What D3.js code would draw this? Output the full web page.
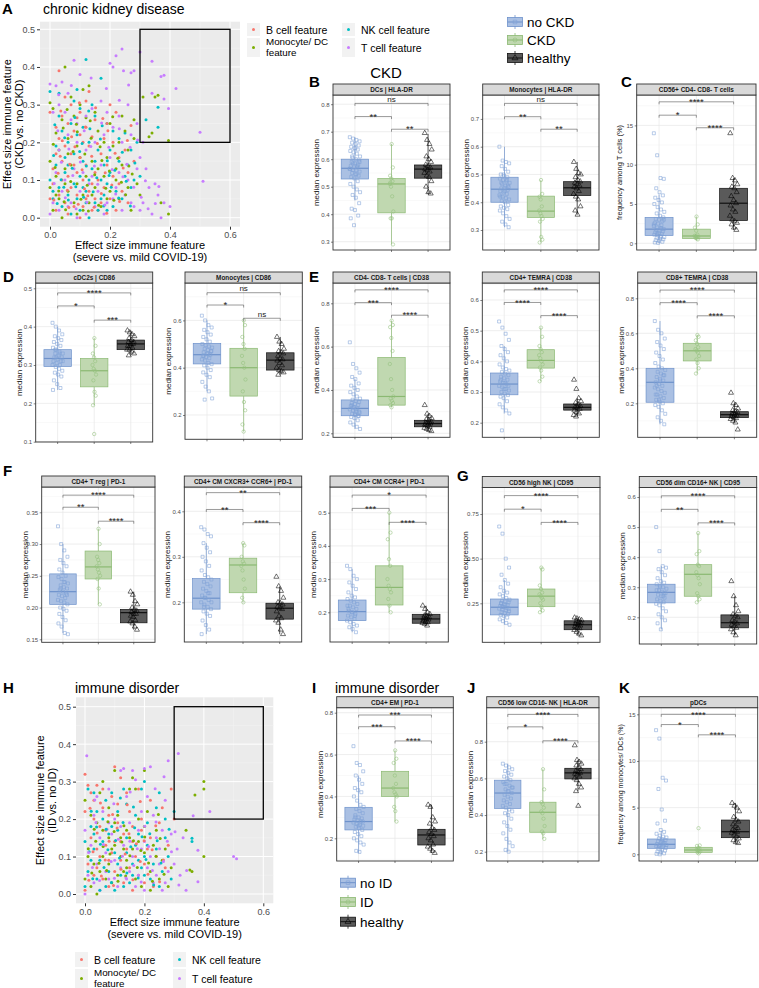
<!DOCTYPE html>
<html>
<head>
<meta charset="utf-8">
<script src="https://cdn.jsdelivr.net/npm/d3@7/dist/d3.min.js"></script>
<style>
  body { margin: 0; background: #fff; }
  svg { font-family: "Liberation Sans", Arial, sans-serif; display: block; }
</style>
</head>
<body>
<div id="fig"></div>
<script>
// ---------- scatter data: effect sizes [severe vs mild, disease vs no disease] ----------
const featLabels = ['B cell feature', 'Monocyte/ DC|feature', 'NK cell feature', 'T cell feature'];
const featColors = ['#F8766D', '#7CAE00', '#00BFC4', '#C77CFF'];
const effXTicks = [0, 0.2, 0.4, 0.6];
const effYTicks = [0, 0.1, 0.2, 0.3, 0.4, 0.5];

const ckdB = [[.03,.39],[.05,.32],[.12,.31],[.0,.28],[.02,.24],[.06,.25],[.08,.23],[.10,.22],[.15,.26],[.20,.30],[.22,.28],[.27,.245],[.25,.18],[.13,.19],[.07,.17],[.04,.15],[.01,.13],[.09,.12],[.11,.10],[.14,.09],[.18,.08],[.21,.11],[.03,.06],[.05,.04],[.08,.03],[.12,.05],[.16,.02],[.02,.02],[.06,.01],[.10,.0],[.04,.27],[.09,.265],[.11,.2],[.14,.215],[.17,.17],[.19,.14],[.23,.16],[.26,.12],[.01,.09],[.07,.08],[.13,.07],[.15,.12],[.18,.21],[.05,.19],[.03,.21],[.08,.14],[.12,.14],[.16,.1],[.2,.05],[.24,.07],[.0,.05],[.09,.06],[.11,.03],[.14,.02],[.17,.04],[.22,.02],[.06,.11],[.02,.17],[.1,.16],[.19,.25],[.07,.3],[.13,.335],[.21,.2],[.28,.15],[.04,.1],[.15,.05],[.23,.09],[.26,.04],[.1,.28],[.12,.24],
  [.013,.047],[.027,.118],[.041,.204],[.058,.073],[.066,.142],[.083,.188],[.094,.036],[.107,.127],[.118,.241],[.126,.058],[.139,.163],[.147,.028],[.158,.197],[.171,.064],[.184,.119],[.193,.231],[.206,.087],[.217,.171],[.232,.043],[.244,.132],[.258,.205],[.036,.283],[.072,.215],[.098,.305],[.152,.292],[.176,.263],[.034,.163],[.115,.077],[.063,.027],[.189,.012]];
const ckdMono = [[.05,.40],[.13,.35],[.0,.305],[.01,.29],[.04,.26],[.07,.32],[.11,.34],[.02,.225],[.06,.21],[.09,.19],[.12,.265],[.16,.23],[.2,.25],[.24,.27],[.28,.26],[.31,.32],[.35,.32],[.36,.325],[.34,.225],[.33,.215],[.395,.205],[.395,.01],[.37,.04],[.29,.09],[.26,.18],[.22,.13],[.18,.11],[.14,.15],[.1,.16],[.05,.13],[.02,.11],[.0,.08],[.03,.05],[.06,.07],[.08,.04],[.11,.02],[.14,.06],[.17,.03],[.2,.07],[.23,.05],[.27,.02],[.01,.02],[.04,.0],[.09,.09],[.12,.11],[.15,.08],[.19,.16],[.21,.19],[.25,.23],[.07,.14],[.03,.18],[.08,.27],[.1,.3],[.15,.28],[.18,.2],[.22,.1],[.26,.08],[.3,.06],[.13,.04],[.16,.13],[.0,.15],[.06,.17],[.11,.06],[.24,.14],[.28,.21],[.05,.09],[.02,.06],[.09,.01],[.19,.05],[.23,.2],
  [.017,.133],[.029,.071],[.044,.238],[.052,.021],[.069,.096],[.077,.176],[.091,.228],[.103,.049],[.116,.169],[.124,.086],[.137,.211],[.149,.114],[.162,.033],[.173,.152],[.186,.078],[.198,.124],[.213,.046],[.226,.158],[.238,.094],[.252,.061],[.263,.137],[.011,.195],[.057,.287],[.088,.248],[.134,.257],[.167,.188],[.209,.268],[.047,.042],[.128,.018],[.274,.116]];
const ckdNK = [[.12,.42],[.17,.37],[.0,.335],[.03,.33],[.08,.31],[.1,.29],[.15,.27],[.19,.25],[.21,.23],[.25,.225],[.29,.2],[.36,.293],[.36,.24],[.32,.26],[.27,.18],[.23,.15],[.2,.12],[.17,.1],[.14,.13],[.11,.15],[.08,.17],[.05,.16],[.02,.14],[.0,.1],[.03,.08],[.06,.06],[.09,.05],[.12,.07],[.15,.04],[.18,.06],[.21,.03],[.24,.05],[.27,.08],[.3,.11],[.01,.05],[.04,.03],[.07,.01],[.1,.02],[.13,.0],[.16,.02],[.19,.09],[.22,.07],[.25,.11],[.06,.2],[.09,.22],[.13,.2],[.16,.18],[.18,.14],[.04,.23],[.07,.25],[.11,.24],[.14,.3],[.02,.19],[.05,.12],[.1,.11],[.13,.1],[.2,.18],[.23,.21],[.26,.14],[.28,.1],[.01,.07],[.08,.09],[.12,.04],[.17,.05],[.03,.27],[.09,.34],[.15,.15],[.19,.02],[.11,.08],[.06,.14],
  [.012,.165],[.024,.038],[.037,.101],[.049,.212],[.061,.047],[.074,.131],[.086,.082],[.099,.176],[.112,.054],[.121,.137],[.133,.236],[.144,.069],[.156,.106],[.168,.209],[.179,.031],[.191,.151],[.204,.081],[.216,.126],[.229,.052],[.241,.174],[.254,.097],[.268,.031],[.283,.145],[.016,.247],[.083,.266],[.129,.283],[.174,.244],[.046,.081],[.107,.197],[.197,.112]];
const ckdT = [[.24,.448],[.30,.44],[.34,.415],[.22,.43],[.2,.41],[.21,.40],[.08,.418],[.1,.38],[.28,.39],[.27,.385],[.245,.39],[.37,.375],[.38,.378],[.42,.343],[.34,.33],[.38,.315],[.395,.29],[.5,.227],[.51,.097],[.31,.2],[.0,.355],[.02,.35],[.04,.36],[.06,.33],[.01,.28],[.03,.3],[.05,.28],[.07,.26],[.09,.25],[.12,.27],[.14,.29],[.17,.31],[.19,.28],[.23,.27],[.26,.3],[.29,.25],[.32,.13],[.35,.09],[.36,.06],[.38,.04],[.34,.01],[.37,.0],[.4,.03],[.33,.08],[.31,.04],[.28,.03],[.25,.06],[.22,.08],[.19,.04],[.16,.07],[.13,.09],[.1,.07],[.07,.04],[.04,.07],[.01,.04],[.0,.01],[.03,.02],[.06,.03],[.09,.0],[.12,.01],[.15,.03],[.18,.01],[.21,.05],[.24,.02],[.27,.04],[.3,.02],[.02,.12],[.05,.1],[.08,.13],[.11,.12],[.14,.11],[.17,.14],[.2,.16],[.23,.12],[.26,.1],[.29,.13],[.03,.18],[.06,.22],[.09,.2],[.12,.18],[.15,.2],[.18,.22],[.21,.24],[.24,.2],[.27,.22],[.3,.16],
  [.014,.091],[.026,.231],[.038,.147],[.051,.053],[.063,.182],[.076,.112],[.087,.024],[.101,.148],[.114,.231],[.123,.041],[.136,.189],[.148,.137],[.159,.089],[.172,.251],[.183,.034],[.196,.187],[.207,.128],[.219,.063],[.231,.236],[.243,.109],[.256,.142],[.267,.187],[.279,.081],[.292,.206],[.304,.054],[.318,.098],[.327,.024],[.351,.038],[.363,.083],[.029,.326],[.071,.351],[.137,.371],[.188,.343],[.231,.312],[.262,.352]];

const idB = [[.0,.32],[.02,.27],[.01,.29],[.04,.29],[.06,.28],[.1,.34],[.12,.31],[.14,.27],[.18,.28],[.22,.25],[.26,.23],[.29,.28],[.0,.22],[.03,.2],[.05,.18],[.08,.21],[.11,.19],[.13,.16],[.16,.14],[.19,.17],[.21,.12],[.24,.1],[.27,.07],[.02,.15],[.04,.12],[.07,.13],[.09,.11],[.12,.09],[.15,.07],[.18,.05],[.2,.03],[.23,.02],[.01,.08],[.03,.05],[.06,.04],[.08,.02],[.1,.06],[.13,.03],[.16,.01],[.0,.01],[.05,.1],[.07,.17],[.1,.14],[.14,.12],[.17,.1],[.2,.08],[.25,.19],[.28,.13],[.03,.25],[.06,.23],[.09,.26],[.11,.24],[.15,.22],[.19,.2],[.04,.07],[.08,.09],[.12,.14],[.16,.18],[.22,.15],[.3,.2],
  [.013,.037],[.027,.113],[.041,.163],[.055,.048],[.068,.091],[.081,.141],[.096,.023],[.108,.176],[.121,.066],[.135,.107],[.148,.161],[.161,.038],[.173,.134],[.186,.087],[.199,.142],[.212,.053],[.226,.118],[.238,.182],[.251,.033],[.264,.091],[.017,.229],[.052,.243],[.093,.212],[.142,.238],[.186,.247]];
const idMono = [[.1,.33],[.06,.3],[.2,.33],[.16,.31],[.15,.28],[.17,.28],[.40,.30],[.40,.28],[.37,.264],[.34,.17],[.40,.10],[.353,.064],[.36,.06],[.0,.25],[.02,.21],[.04,.19],[.06,.17],[.08,.15],[.1,.13],[.13,.12],[.15,.15],[.18,.14],[.2,.11],[.23,.13],[.26,.09],[.29,.07],[.01,.1],[.03,.08],[.05,.06],[.07,.04],[.09,.03],[.11,.05],[.14,.07],[.17,.04],[.19,.02],[.22,.06],[.25,.04],[.28,.02],[.0,.04],[.02,.02],[.04,.0],[.06,.1],[.08,.08],[.12,.1],[.14,.09],[.16,.12],[.12,.15],[.14,.17],[.1,.19],[.18,.2],[.21,.22],[.24,.17],[.05,.27],[.08,.23],[.11,.21],[.13,.06],[.22,.01],[.27,.12],[.09,.12],[.2,.18],
  [.011,.121],[.023,.056],[.036,.141],[.047,.082],[.061,.127],[.073,.063],[.084,.107],[.098,.167],[.111,.034],[.124,.139],[.137,.048],[.151,.102],[.163,.142],[.176,.071],[.188,.116],[.201,.152],[.214,.083],[.227,.034],[.239,.101],[.253,.148],[.266,.053],[.031,.173],[.077,.193],[.131,.182],[.247,.212]];
const idNK = [[.01,.28],[.03,.27],[.09,.27],[.13,.28],[.19,.28],[.2,.3],[.25,.27],[.36,.149],[.36,.14],[.3,.22],[.27,.2],[.24,.23],[.21,.19],[.17,.21],[.14,.24],[.11,.22],[.07,.25],[.04,.22],[.02,.18],[.0,.14],[.03,.12],[.06,.14],[.08,.16],[.11,.17],[.14,.15],[.17,.13],[.2,.1],[.23,.08],[.26,.06],[.29,.04],[.01,.06],[.04,.04],[.07,.02],[.1,.01],[.13,.02],[.16,.05],[.19,.07],[.22,.04],[.25,.02],[.0,.02],[.05,.09],[.08,.06],[.11,.08],[.14,.11],[.18,.09],[.21,.13],[.24,.12],[.27,.15],[.02,.09],[.06,.2],[.09,.18],[.12,.05],[.15,.03],[.18,.16],[.03,.16],[.1,.11],[.16,.08],[.28,.1],[.05,.01],[.2,.05],
  [.014,.113],[.026,.041],[.039,.179],[.052,.133],[.064,.071],[.077,.118],[.089,.031],[.103,.143],[.116,.096],[.128,.191],[.141,.056],[.154,.126],[.167,.177],[.179,.043],[.192,.153],[.205,.092],[.218,.161],[.231,.024],[.243,.142],[.256,.083],[.021,.221],[.071,.173],[.119,.256],[.163,.232],[.283,.173]];
const idT = [[.006,.369],[.314,.375],[.28,.356],[.266,.313],[.2,.335],[.22,.34],[.16,.33],[.17,.305],[.12,.33],[.13,.335],[.364,.209],[.42,.22],[.38,.117],[.5,.1],[.51,.094],[.38,.033],[.34,.01],[.33,.15],[.31,.12],[.3,.08],[.03,.21],[.06,.22],[.08,.19],[.1,.2],[.15,.19],[.19,.22],[.23,.21],[.26,.17],[.29,.16],[.0,.17],[.02,.13],[.05,.15],[.07,.11],[.1,.09],[.13,.13],[.16,.1],[.19,.12],[.22,.1],[.25,.08],[.28,.06],[.01,.05],[.03,.03],[.05,.01],[.08,.04],[.11,.02],[.14,.04],[.17,.02],[.2,.01],[.23,.03],[.26,.01],[.0,.0],[.04,.08],[.07,.06],[.12,.07],[.15,.06],[.18,.05],[.21,.07],[.24,.05],[.27,.03],[.09,.16],[.12,.18],[.18,.17],[.2,.14],[.24,.15],[.04,.26],[.08,.28],[.14,.26],[.21,.26],[.27,.25],[.32,.05],
  [.012,.111],[.025,.071],[.037,.191],[.049,.036],[.062,.132],[.074,.173],[.088,.087],[.099,.042],[.112,.146],[.126,.101],[.138,.043],[.151,.141],[.164,.076],[.176,.121],[.189,.032],[.201,.181],[.214,.127],[.227,.063],[.239,.192],[.251,.121],[.264,.087],[.277,.141],[.291,.113],[.303,.166],[.316,.024],[.342,.063],[.033,.251],[.097,.241],[.152,.272],[.236,.281]];

// ---------- box plot data: [lower whisker, q1, median, q3, upper whisker] per group ----------
const ckdGroups = ['no CKD', 'CKD', 'healthy'];
const idGroups = ['no ID', 'ID', 'healthy'];

const b1Box = [[0.45,0.528,0.567,0.60,0.68],[0.29,0.405,0.51,0.53,0.655],[0.473,0.531,0.564,0.579,0.692]];
const b1Pts = [[0.68,0.675,0.67,0.665,0.66,0.655,0.65,0.645,0.64,0.635,0.63,0.625,0.62,0.61,0.605,0.60,0.595,0.59,0.585,0.58,0.575,0.57,0.57,0.565,0.56,0.56,0.555,0.55,0.545,0.54,0.535,0.53,0.52,0.51,0.50,0.49,0.48,0.47,0.46,0.44,0.42,0.415,0.395,0.385,0.36,0.575,0.565,0.585,0.545,0.59,0.61,0.64],
  [0.655,0.57,0.54,0.53,0.52,0.51,0.50,0.465,0.41,0.385,0.385,0.29,0.515],
  [0.695,0.67,0.655,0.635,0.61,0.60,0.59,0.58,0.575,0.57,0.565,0.56,0.555,0.55,0.54,0.535,0.52,0.50,0.48,0.475]];
const b1Brk = [0.803,0.755,0.709], b1Sig = ['ns','**','**'], b1Ticks = [0.3,0.4,0.5,0.6,0.7,0.8];

const b2Box = [[0.31,0.40,0.447,0.49,0.60],[0.255,0.345,0.368,0.422,0.48],[0.355,0.424,0.452,0.474,0.545]];
const b2Pts = [[0.60,0.55,0.545,0.54,0.53,0.52,0.51,0.50,0.495,0.49,0.485,0.48,0.475,0.47,0.465,0.46,0.455,0.45,0.45,0.445,0.44,0.435,0.43,0.425,0.42,0.415,0.41,0.405,0.40,0.39,0.385,0.38,0.375,0.37,0.36,0.35,0.34,0.33,0.32,0.31,0.47,0.44,0.46,0.42,0.50,0.48],
  [0.48,0.43,0.42,0.41,0.385,0.37,0.36,0.35,0.34,0.33,0.275,0.265,0.255],
  [0.545,0.52,0.505,0.50,0.49,0.48,0.475,0.47,0.465,0.46,0.455,0.45,0.44,0.43,0.42,0.41,0.385,0.37,0.355]];
const b2Brk = [0.756,0.708,0.663], b2Sig = ['ns','**','**'], b2Ticks = [0.3,0.4,0.5,0.6,0.7];

const cBox = [[0,1.0,1.8,3.3,6.2],[0.4,0.6,0.93,1.8,3.4],[1.7,2.9,5.1,7.0,8.3]];
const cPts = [[14,11.2,8.3,8.2,7.0,6.5,6.1,5.8,5.5,5.2,5.0,4.6,4.3,4.0,3.8,3.5,3.3,3.1,3.0,2.8,2.6,2.5,2.3,2.2,2.0,1.9,1.8,1.7,1.6,1.5,1.4,1.3,1.2,1.1,1.0,0.9,0.8,0.7,0.6,0.5,0.4,0.3,0.2,0.1,0.05,1.9,2.4,1.2,0.8,3.0],
  [3.4,2.4,2.0,1.6,1.1,0.95,0.9,0.85,0.8,0.7,0.6,0.5],
  [14,8.3,8.0,7.5,7.2,7.0,6.5,6.0,5.5,5.1,4.8,4.3,4.0,3.5,3.0,2.8,2.6,2.4,2.0,1.7]];
const cBrk = [18.0,16.3,14.7], cSig = ['****','*','****'], cTicks = [0,5,10,15];

const d1Box = [[0.235,0.296,0.317,0.34,0.40],[0.195,0.243,0.285,0.317,0.37],[0.325,0.34,0.355,0.365,0.39]];
const d1Pts = [[0.41,0.40,0.39,0.38,0.375,0.37,0.365,0.36,0.355,0.35,0.345,0.34,0.335,0.33,0.33,0.325,0.32,0.32,0.315,0.31,0.31,0.305,0.30,0.30,0.295,0.29,0.285,0.28,0.275,0.27,0.26,0.25,0.24,0.235,0.32,0.33,0.31,0.34],
  [0.37,0.35,0.33,0.32,0.31,0.30,0.29,0.285,0.275,0.26,0.23,0.22,0.195,0.12],
  [0.39,0.385,0.38,0.375,0.37,0.365,0.36,0.36,0.355,0.355,0.35,0.35,0.345,0.34,0.34,0.335,0.33,0.325]];
const d1Brk = [0.488,0.454,0.417], d1Sig = ['****','*','***'], d1Ticks = [0.1,0.2,0.3,0.4,0.5];

const d2Box = [[0.30,0.416,0.455,0.503,0.60],[0.13,0.28,0.40,0.482,0.60],[0.37,0.39,0.432,0.463,0.53]];
const d2Pts = [[0.62,0.60,0.58,0.57,0.56,0.55,0.54,0.53,0.52,0.51,0.50,0.495,0.49,0.485,0.48,0.475,0.47,0.465,0.46,0.455,0.45,0.445,0.44,0.435,0.43,0.42,0.415,0.41,0.40,0.39,0.38,0.37,0.36,0.34,0.32,0.30,0.27,0.265,0.46,0.47,0.45],
  [0.60,0.58,0.53,0.50,0.48,0.45,0.42,0.40,0.35,0.30,0.255,0.22,0.16,0.13],
  [0.53,0.51,0.50,0.48,0.47,0.465,0.46,0.45,0.44,0.435,0.43,0.42,0.41,0.40,0.39,0.385,0.38,0.37]];
const d2Brk = [0.717,0.665,0.609], d2Sig = ['ns','*','ns'], d2Ticks = [0.2,0.4,0.6];

const e1Box = [[0.22,0.281,0.315,0.354,0.45],[0.32,0.33,0.37,0.55,0.72],[0.21,0.23,0.245,0.26,0.29]];
const e1Pts = [[0.62,0.52,0.50,0.48,0.46,0.45,0.43,0.42,0.41,0.40,0.39,0.38,0.37,0.36,0.355,0.35,0.345,0.34,0.335,0.33,0.325,0.32,0.315,0.31,0.305,0.30,0.295,0.29,0.285,0.28,0.275,0.27,0.26,0.25,0.24,0.23,0.22,0.32,0.31,0.30,0.33,0.29,0.28],
  [0.72,0.70,0.69,0.64,0.58,0.52,0.45,0.40,0.37,0.36,0.35,0.34,0.33,0.32],
  [0.33,0.29,0.28,0.27,0.265,0.26,0.255,0.25,0.245,0.245,0.24,0.235,0.23,0.225,0.22,0.215,0.21]];
const e1Brk = [0.862,0.803,0.745], e1Sig = ['****','***','****'], e1Ticks = [0.2,0.4,0.6,0.8];

const e2Box = [[0.23,0.291,0.326,0.362,0.45],[0.335,0.378,0.403,0.438,0.51],[0.22,0.241,0.25,0.261,0.28]];
const e2Pts = [[0.53,0.51,0.49,0.47,0.45,0.44,0.43,0.42,0.41,0.40,0.39,0.38,0.375,0.37,0.365,0.36,0.355,0.35,0.345,0.34,0.335,0.33,0.325,0.32,0.315,0.31,0.305,0.30,0.295,0.29,0.285,0.28,0.27,0.26,0.25,0.24,0.23,0.175,0.33,0.32,0.34,0.31],
  [0.51,0.48,0.45,0.44,0.43,0.42,0.41,0.40,0.39,0.38,0.37,0.35,0.335],
  [0.34,0.31,0.28,0.27,0.265,0.26,0.255,0.25,0.25,0.245,0.24,0.235,0.23,0.225,0.22]];
const e2Brk = [0.633,0.592,0.549], e2Sig = ['****','****','****'], e2Ticks = [0.2,0.3,0.4,0.5,0.6];

const e3Box = [[0.08,0.206,0.32,0.40,0.67],[0.37,0.442,0.50,0.543,0.59],[0.09,0.118,0.135,0.152,0.2]];
const e3Pts = [[0.67,0.62,0.60,0.57,0.55,0.53,0.51,0.49,0.47,0.45,0.43,0.41,0.40,0.39,0.38,0.37,0.36,0.35,0.34,0.33,0.32,0.31,0.30,0.29,0.28,0.27,0.26,0.25,0.24,0.23,0.22,0.21,0.20,0.19,0.18,0.16,0.14,0.12,0.10,0.08,0.30,0.33,0.36,0.25,0.22],
  [0.59,0.58,0.56,0.54,0.52,0.51,0.50,0.49,0.47,0.45,0.43,0.40,0.37],
  [0.26,0.20,0.19,0.17,0.16,0.155,0.15,0.14,0.135,0.13,0.125,0.12,0.115,0.11,0.10,0.09,0.05]];
const e3Brk = [0.847,0.775,0.70], e3Sig = ['****','****','****'], e3Ticks = [0.2,0.4,0.6,0.8];

const f1Box = [[0.16,0.205,0.225,0.253,0.30],[0.205,0.245,0.264,0.289,0.324],[0.165,0.176,0.192,0.197,0.225]];
const f1Pts = [[0.328,0.30,0.29,0.28,0.275,0.27,0.265,0.26,0.255,0.25,0.248,0.245,0.24,0.238,0.235,0.232,0.23,0.228,0.225,0.222,0.22,0.218,0.215,0.212,0.21,0.208,0.205,0.20,0.198,0.195,0.19,0.185,0.18,0.175,0.17,0.16,0.158,0.23,0.24,0.22],
  [0.324,0.30,0.28,0.275,0.27,0.265,0.26,0.255,0.25,0.245,0.23,0.205],
  [0.225,0.22,0.21,0.205,0.20,0.197,0.195,0.193,0.19,0.19,0.187,0.185,0.18,0.178,0.175,0.17,0.165]];
const f1Brk = [0.377,0.358,0.336], f1Sig = ['****','**','****'], f1Ticks = [0.15,0.20,0.25,0.30,0.35];

const f2Box = [[0.13,0.185,0.209,0.252,0.33],[0.20,0.221,0.282,0.297,0.33],[0.13,0.163,0.187,0.198,0.235]];
const f2Pts = [[0.365,0.36,0.35,0.345,0.33,0.32,0.31,0.30,0.29,0.28,0.27,0.26,0.255,0.25,0.245,0.24,0.235,0.23,0.225,0.22,0.215,0.21,0.205,0.20,0.195,0.19,0.185,0.18,0.175,0.17,0.16,0.15,0.14,0.13,0.21,0.22,0.20,0.19],
  [0.33,0.325,0.30,0.29,0.285,0.28,0.27,0.25,0.23,0.21,0.20],
  [0.256,0.235,0.225,0.21,0.20,0.198,0.195,0.19,0.187,0.185,0.18,0.17,0.165,0.16,0.155,0.14,0.13]];
const f2Brk = [0.441,0.404,0.375], f2Sig = ['**','**','****'], f2Ticks = [0.2,0.3,0.4];

const f3Box = [[0.14,0.175,0.202,0.237,0.33],[0.20,0.222,0.275,0.34,0.50],[0.16,0.167,0.18,0.194,0.22]];
const f3Pts = [[0.34,0.33,0.31,0.30,0.29,0.28,0.27,0.26,0.25,0.245,0.24,0.235,0.23,0.225,0.22,0.215,0.21,0.205,0.20,0.195,0.19,0.185,0.18,0.175,0.17,0.165,0.16,0.155,0.15,0.14,0.21,0.20,0.19,0.22],
  [0.50,0.44,0.42,0.36,0.34,0.30,0.28,0.27,0.26,0.24,0.22,0.20],
  [0.22,0.21,0.20,0.195,0.19,0.188,0.185,0.183,0.18,0.178,0.175,0.172,0.17,0.168,0.165,0.16]];
const f3Brk = [0.553,0.513,0.471], f3Sig = ['*','***','****'], f3Ticks = [0.2,0.3,0.4,0.5];

const g1Box = [[0.13,0.185,0.228,0.274,0.38],[0.20,0.231,0.29,0.33,0.45],[0.07,0.102,0.13,0.152,0.17]];
const g1Pts = [[0.68,0.64,0.50,0.45,0.41,0.38,0.36,0.34,0.32,0.31,0.30,0.29,0.28,0.27,0.265,0.26,0.255,0.25,0.245,0.24,0.235,0.23,0.225,0.22,0.215,0.21,0.205,0.20,0.195,0.19,0.185,0.18,0.17,0.16,0.15,0.14,0.13,0.23,0.24,0.22,0.25],
  [0.45,0.44,0.35,0.33,0.31,0.30,0.29,0.28,0.27,0.25,0.23,0.21,0.20],
  [0.17,0.165,0.16,0.155,0.15,0.145,0.14,0.135,0.13,0.125,0.12,0.115,0.11,0.10,0.09,0.08,0.07]];
const g1Brk = [0.853,0.777,0.703], g1Sig = ['****','*','****'], g1Ticks = [0.25,0.50,0.75];

const g2Box = [[0.16,0.248,0.283,0.31,0.37],[0.25,0.27,0.343,0.375,0.48],[0.14,0.165,0.182,0.208,0.27]];
const g2Pts = [[0.50,0.42,0.37,0.365,0.36,0.35,0.34,0.33,0.32,0.315,0.31,0.305,0.30,0.295,0.29,0.285,0.28,0.275,0.27,0.265,0.26,0.255,0.25,0.245,0.24,0.23,0.22,0.21,0.20,0.19,0.18,0.16,0.28,0.29,0.30,0.27],
  [0.48,0.42,0.41,0.375,0.37,0.35,0.34,0.33,0.31,0.28,0.27,0.26,0.25],
  [0.32,0.27,0.24,0.22,0.21,0.205,0.20,0.19,0.185,0.18,0.175,0.17,0.165,0.16,0.15,0.14]];
const g2Brk = [0.604,0.559,0.514], g2Sig = ['****','**','****'], g2Ticks = [0.2,0.3,0.4,0.5,0.6];

const iBox = [[0.13,0.24,0.28,0.348,0.50],[0.28,0.40,0.44,0.52,0.62],[0.13,0.168,0.216,0.243,0.36]];
const iPts = [[0.64,0.56,0.55,0.52,0.50,0.48,0.46,0.44,0.43,0.42,0.40,0.38,0.36,0.35,0.34,0.33,0.32,0.31,0.30,0.295,0.29,0.285,0.28,0.275,0.27,0.265,0.26,0.255,0.25,0.24,0.23,0.22,0.21,0.20,0.19,0.18,0.17,0.14,0.135,0.28,0.30,0.26],
  [0.62,0.58,0.56,0.50,0.46,0.44,0.42,0.41,0.40,0.35,0.33,0.28],
  [0.36,0.35,0.30,0.28,0.27,0.25,0.24,0.23,0.22,0.21,0.20,0.19,0.17,0.16,0.15,0.14,0.13]];
const iBrk = [0.789,0.733,0.665], iSig = ['***','***','****'], iTicks = [0.2,0.4,0.6,0.8];

const jBox = [[0.20,0.436,0.52,0.59,0.68],[0.27,0.306,0.415,0.47,0.65],[0.53,0.597,0.63,0.655,0.70]];
const jPts = [[0.68,0.67,0.66,0.65,0.64,0.63,0.62,0.61,0.60,0.59,0.58,0.57,0.56,0.55,0.54,0.53,0.52,0.51,0.50,0.49,0.48,0.47,0.46,0.45,0.44,0.43,0.42,0.41,0.40,0.38,0.36,0.34,0.32,0.30,0.27,0.25,0.23,0.21,0.20,0.55,0.57,0.53],
  [0.65,0.54,0.47,0.46,0.44,0.42,0.41,0.38,0.34,0.31,0.30,0.27],
  [0.78,0.70,0.69,0.68,0.67,0.66,0.65,0.64,0.635,0.63,0.625,0.62,0.61,0.60,0.59,0.57,0.55,0.53,0.45]];
const jBrk = [0.949,0.881,0.805], jSig = ['****','*','****'], jTicks = [0.2,0.4,0.6,0.8];

const kBox = [[0,0.64,1.07,1.64,2.5],[0.05,0.21,0.46,0.75,0.95],[1.2,1.78,2.42,3.67,5.5]];
const kPts = [[13.3,12.4,8.2,7.9,7.0,4.8,3.6,3.3,2.6,2.4,2.2,2.0,1.9,1.8,1.7,1.6,1.5,1.4,1.3,1.2,1.1,1.0,0.95,0.9,0.85,0.8,0.7,0.6,0.5,0.4,0.3,0.2,0.1,0.05,0,1.2,1.0,0.9,1.4],
  [2.8,0.95,0.9,0.7,0.6,0.5,0.45,0.4,0.3,0.2,0.1],
  [5.5,5.2,5.0,4.6,4.0,3.7,3.5,3.2,3.0,2.8,2.6,2.5,2.4,2.3,2.1,1.9,1.7,1.5,1.3,1.2]];
const kBrk = [15.0,13.9,12.8], kSig = ['****','*','****'], kTicks = [0,5,10,15];

// ---------- drawing ----------
const svg = d3.select('#fig').append('svg').attr('width', 759).attr('height', 988);

const grpStyle = [
  { fill: '#aac0e3', stroke: '#6e92cb', pt: '#7fa1d6', sym: d3.symbolSquare, size: 9, jit: 0.14 },
  { fill: '#c0d8b0', stroke: '#8bb972', pt: '#93c07c', sym: d3.symbolCircle, size: 9, jit: 0.05 },
  { fill: '#5a5a5a', stroke: '#111', pt: '#000', sym: d3.symbolTriangle, size: 11, jit: 0.1 }
];

function txt(x, y, s, size, opts = {}) {
  return svg.append('text').attr('x', x).attr('y', y).text(s)
    .attr('font-size', size)
    .attr('font-weight', opts.bold ? 'bold' : null)
    .attr('text-anchor', opts.anchor || 'start')
    .attr('fill', opts.fill || '#000');
}

// panel letters and titles
[['A', 2, 14], ['B', 309, 87], ['C', 621, 87], ['D', 3, 282], ['E', 309, 282],
 ['F', 3, 476], ['G', 457, 481], ['H', 3, 693], ['I', 312, 693], ['J', 467, 693], ['K', 619, 693]]
  .forEach(d => txt(d[1], d[2], d[0], 15, { bold: true }));
txt(43, 14, 'chronic kidney disease', 14);
txt(386, 78, 'CKD', 15, { anchor: 'middle' });
txt(75, 693, 'immune disorder', 14);
txt(335, 693, 'immune disorder', 14);

function scatter(c) {
  const g = svg.append('g');
  const x = d3.scaleLinear().domain([0, 0.6]).range(c.xr);
  const y = d3.scaleLinear().domain([0, 0.5]).range(c.yr);
  const [bx0, by0, bx1, by1] = c.bg;
  g.append('rect').attr('x', bx0).attr('y', by0).attr('width', bx1 - bx0).attr('height', by1 - by0).attr('fill', '#ebebeb');
  const xMin = [-0.1, 0.1, 0.3, 0.5], yMin = [0.05, 0.15, 0.25, 0.35, 0.45];
  g.selectAll('.xm').data(xMin.filter(v => x(v) > bx0)).join('line')
    .attr('x1', d => x(d)).attr('x2', d => x(d)).attr('y1', by0).attr('y2', by1)
    .attr('stroke', '#f5f5f5').attr('stroke-width', 0.5);
  g.selectAll('.ym').data(yMin).join('line')
    .attr('y1', d => y(d)).attr('y2', d => y(d)).attr('x1', bx0).attr('x2', bx1)
    .attr('stroke', '#f5f5f5').attr('stroke-width', 0.5);
  g.selectAll('.xg').data(effXTicks).join('line')
    .attr('x1', d => x(d)).attr('x2', d => x(d)).attr('y1', by0).attr('y2', by1)
    .attr('stroke', '#fff').attr('stroke-width', 1);
  g.selectAll('.yg').data(effYTicks).join('line')
    .attr('y1', d => y(d)).attr('y2', d => y(d)).attr('x1', bx0).attr('x2', bx1)
    .attr('stroke', '#fff').attr('stroke-width', 1);
  // interleave categories so colours mix like the original
  const pts = [];
  const n = d3.max(c.sets, s => s.length);
  for (let i = 0; i < n; i++) c.sets.forEach((s, k) => { if (s[i]) pts.push([s[i][0], s[i][1], k]); });
  g.selectAll('circle').data(pts).join('circle')
    .attr('cx', d => x(d[0])).attr('cy', d => y(d[1])).attr('r', 1.5)
    .attr('fill', d => featColors[d[2]]);
  g.append('rect').attr('x', x(0.3)).attr('y', y(0.5)).attr('width', x(0.6) - x(0.3)).attr('height', y(0.2) - y(0.5))
    .attr('fill', 'none').attr('stroke', '#000').attr('stroke-width', 1.3);
  const ax = g.append('g').attr('transform', `translate(0,${by1})`)
    .call(d3.axisBottom(x).tickValues(effXTicks).tickFormat(d3.format('.1f')).tickSize(3).tickPadding(2));
  const ay = g.append('g').attr('transform', `translate(${bx0},0)`)
    .call(d3.axisLeft(y).tickValues(effYTicks).tickFormat(d3.format('.1f')).tickSize(3).tickPadding(2));
  [ax, ay].forEach(a => {
    a.select('.domain').remove();
    a.selectAll('line').attr('stroke', '#333');
    a.selectAll('text').attr('font-size', 9).attr('fill', '#4d4d4d').attr('font-family', 'Liberation Sans, Arial, sans-serif');
  });
  const cx = (bx0 + bx1) / 2, cy = (by0 + by1) / 2;
  txt(cx, by1 + 22.5, 'Effect size immune feature', 11, { anchor: 'middle' });
  txt(cx, by1 + 34.5, '(severe vs. mild COVID-19)', 11, { anchor: 'middle' });
  c.ylab.forEach((s, i) => {
    svg.append('text').attr('transform', `translate(${c.ylabX[i]},${cy}) rotate(-90)`)
      .attr('text-anchor', 'middle').attr('font-size', 11).text(s);
  });
}

scatter({ bg: [40, 21.7, 240, 226.7], xr: [50, 230], yr: [217.7, 29.3], sets: [ckdB, ckdMono, ckdNK, ckdT],
  ylab: ['Effect size immune feature', '(CKD vs. no CKD)'], ylabX: [11, 22.5] });
scatter({ bg: [76, 697.3, 273.3, 903.3], xr: [85, 263.3], yr: [894, 706.7], sets: [idB, idMono, idNK, idT],
  ylab: ['Effect size immune feature', '(ID vs. no ID)'], ylabX: [44, 56] });

function featLegend(x0, y0, dx, h1, h2) {
  featLabels.forEach((lab, i) => {
    const cc = i === 0 || i === 1 ? 0 : 1;
    const rr = i === 0 || i === 2 ? 0 : 1;
    const kx = x0 + cc * dx;
    const ky = rr === 0 ? y0 : y0 + h1 + 2;
    const kh = rr === 0 ? h1 : h2;
    svg.append('rect').attr('x', kx).attr('y', ky).attr('width', 13).attr('height', kh).attr('fill', '#f2f2f2');
    svg.append('circle').attr('cx', kx + 6.5).attr('cy', ky + kh / 2).attr('r', 1.5).attr('fill', featColors[i]);
    const parts = lab.split('|');
    if (parts.length === 1) txt(kx + 19, ky + kh / 2 + 4, parts[0], 10.5);
    else {
      const t = svg.append('text').attr('x', kx + 19).attr('y', ky + kh / 2 - 2.5).attr('font-size', 9.8);
      t.append('tspan').attr('x', kx + 19).text(parts[0]);
      t.append('tspan').attr('x', kx + 19).attr('dy', 10.5).text(parts[1]);
    }
  });
}
featLegend(247, 23, 95, 13, 19);
featLegend(75, 952, 98, 15, 19);

function groupLegend(x0, ys, labels) {
  labels.forEach((lab, i) => {
    const st = grpStyle[i], cy = ys[i];
    svg.append('line').attr('x1', x0 + 8).attr('x2', x0 + 8).attr('y1', cy - 7).attr('y2', cy + 7)
      .attr('stroke', st.stroke).attr('stroke-width', 0.8);
    svg.append('rect').attr('x', x0 + 0.5).attr('y', cy - 4.5).attr('width', 15).attr('height', 9)
      .attr('fill', st.fill).attr('stroke', st.stroke).attr('stroke-width', 0.8);
    svg.append('line').attr('x1', x0 + 0.5).attr('x2', x0 + 15.5).attr('y1', cy).attr('y2', cy)
      .attr('stroke', st.stroke).attr('stroke-width', 1);
    svg.append('path').attr('d', d3.symbol().type(st.sym).size(st.size + 4)())
      .attr('transform', `translate(${x0 + 8},${cy})`).attr('fill', 'none').attr('stroke', st.pt).attr('stroke-width', 0.6);
    txt(x0 + 20, cy + 5, lab, 13.5);
  });
}
groupLegend(507, [22, 40, 58], ckdGroups);
groupLegend(340, [882.7, 902, 921.7], idGroups);

function jitter(i, w) { return ((((i * 7919) % 23) / 22) - 0.5) * 2 * w; }

function boxPanel(p) {
  const g = svg.append('g');
  const pt = p.top + 11;
  const x = d3.scaleLinear().domain([0.4, 3.6]).range([p.x0, p.x1]);
  const y = d3.scaleLinear().domain([p.a[0], p.b[0]]).range([p.a[1], p.b[1]]);
  const lo = y.invert(p.bot), hi = y.invert(pt);
  g.append('rect').attr('x', p.x0).attr('y', pt).attr('width', p.x1 - p.x0).attr('height', p.bot - pt).attr('fill', '#fff');
  const step = p.ticks[1] - p.ticks[0];
  const minors = [];
  for (let k = -1; k <= p.ticks.length; k++) {
    const v = p.ticks[0] + (k + 0.5) * step;
    if (v > lo && v < hi) minors.push(v);
  }
  g.selectAll('.mi').data(minors).join('line')
    .attr('x1', p.x0).attr('x2', p.x1).attr('y1', d => y(d)).attr('y2', d => y(d))
    .attr('stroke', '#f2f2f2').attr('stroke-width', 0.5);
  g.selectAll('.ma').data(p.ticks.filter(v => v >= lo && v <= hi)).join('line')
    .attr('x1', p.x0).attr('x2', p.x1).attr('y1', d => y(d)).attr('y2', d => y(d))
    .attr('stroke', '#e6e6e6').attr('stroke-width', 0.7);
  g.selectAll('.vx').data([1, 2, 3]).join('line')
    .attr('x1', d => x(d)).attr('x2', d => x(d)).attr('y1', pt).attr('y2', p.bot)
    .attr('stroke', '#e6e6e6').attr('stroke-width', 0.7);

  p.box.forEach((b, k) => {
    const st = grpStyle[k], cx = x(k + 1), hw = x(1.375) - x(1);
    g.append('line').attr('x1', cx).attr('x2', cx).attr('y1', y(b[4])).attr('y2', y(b[3]))
      .attr('stroke', st.stroke).attr('stroke-width', 0.7);
    g.append('line').attr('x1', cx).attr('x2', cx).attr('y1', y(b[1])).attr('y2', y(b[0]))
      .attr('stroke', st.stroke).attr('stroke-width', 0.7);
    g.append('rect').attr('x', cx - hw).attr('y', y(b[3])).attr('width', 2 * hw).attr('height', y(b[1]) - y(b[3]))
      .attr('fill', st.fill).attr('stroke', st.stroke).attr('stroke-width', 0.7);
    g.append('line').attr('x1', cx - hw).attr('x2', cx + hw).attr('y1', y(b[2])).attr('y2', y(b[2]))
      .attr('stroke', st.stroke).attr('stroke-width', 1.2);
  });
  p.pts.forEach((vals, k) => {
    const st = grpStyle[k];
    g.selectAll('.p' + k).data(vals).join('path')
      .attr('d', d3.symbol().type(st.sym).size(st.size)())
      .attr('transform', (d, i) => `translate(${x(k + 1 + jitter(i + k * 5, st.jit))},${y(d)})`)
      .attr('fill', 'none').attr('stroke', st.pt).attr('stroke-width', 0.55);
  });
  // significance brackets: [1-3], [1-2], [2-3]
  const pairs = [[1, 3], [1, 2], [2, 3]];
  pairs.forEach((pr, k) => {
    const yy = y(p.brk[k]), xa = x(pr[0]), xb = x(pr[1]);
    g.append('path').attr('d', `M${xa},${yy + 2.5}V${yy}H${xb}V${yy + 2.5}`)
      .attr('fill', 'none').attr('stroke', '#555').attr('stroke-width', 0.6);
    const lab = p.sig[k], star = lab.includes('*');
    g.append('text').attr('x', (xa + xb) / 2).attr('y', star ? yy + 3.2 : yy - 1.5)
      .attr('text-anchor', 'middle').attr('font-size', star ? 9.5 : 8).attr('fill', '#222').text(lab);
  });
  const ay = g.append('g').attr('transform', `translate(${p.x0},0)`);
  const dec = d3.max(p.ticks, t => (String(t).split('.')[1] || '').length);
  ay.call(d3.axisLeft(y).tickValues(p.ticks.filter(v => v >= lo && v <= hi))
    .tickFormat(p.fmt || d3.format('.' + dec + 'f')).tickSize(2).tickPadding(1.5));
  ay.select('.domain').remove();
  ay.selectAll('line').attr('stroke', '#333').attr('stroke-width', 0.6);
  ay.selectAll('text').attr('font-size', 6).attr('fill', '#4d4d4d').attr('font-family', 'Liberation Sans, Arial, sans-serif');
  g.selectAll('.xt').data([1, 2, 3]).join('line')
    .attr('x1', d => x(d)).attr('x2', d => x(d)).attr('y1', p.bot).attr('y2', p.bot + 2)
    .attr('stroke', '#333').attr('stroke-width', 0.6);
  g.append('rect').attr('x', p.x0).attr('y', pt).attr('width', p.x1 - p.x0).attr('height', p.bot - pt)
    .attr('fill', 'none').attr('stroke', '#333').attr('stroke-width', 0.9);
  g.append('rect').attr('x', p.x0).attr('y', p.top).attr('width', p.x1 - p.x0).attr('height', 11)
    .attr('fill', '#d9d9d9').attr('stroke', '#333').attr('stroke-width', 0.9);
  g.append('text').attr('x', (p.x0 + p.x1) / 2).attr('y', p.top + 8).attr('text-anchor', 'middle')
    .attr('font-size', 6.4).attr('font-weight', 'bold').attr('fill', '#1a1a1a').text(p.title);
  g.append('text').attr('transform', `translate(${p.x0 - (p.ylOff || 14)},${(pt + p.bot) / 2}) rotate(-90)`)
    .attr('text-anchor', 'middle').attr('font-size', p.ylSize || 8).attr('fill', '#1a1a1a').text(p.ylab);
}

const med = 'median expression';
const panels = [
  { title: 'DCs | HLA-DR', x0: 333, x1: 450, top: 84, bot: 250, a: [0.3, 241.7], b: [0.7, 131.7], ticks: b1Ticks, box: b1Box, pts: b1Pts, brk: b1Brk, sig: b1Sig, ylab: med },
  { title: 'Monocytes | HLA-DR', x0: 482.7, x1: 599, top: 84, bot: 250, a: [0.3, 230], b: [0.6, 146.7], ticks: b2Ticks, box: b2Box, pts: b2Pts, brk: b2Brk, sig: b2Sig, ylab: med },
  { title: 'CD56+ CD4- CD8- T cells', x0: 636.7, x1: 756, top: 84, bot: 250, a: [0, 243.3], b: [10, 164.7], ticks: cTicks, box: cBox, pts: cPts, brk: cBrk, sig: cSig, ylab: 'frequency among T cells (%)', ylOff: 15, ylSize: 7.5, fmt: d3.format('d') },
  { title: 'cDC2s | CD86', x0: 35.7, x1: 152.7, top: 272, bot: 442, a: [0.1, 441.7], b: [0.3, 365], ticks: d1Ticks, box: d1Box, pts: d1Pts, brk: d1Brk, sig: d1Sig, ylab: med },
  { title: 'Monocytes | CD86', x0: 185, x1: 302.3, top: 272, bot: 439.3, a: [0.2, 415], b: [0.4, 367.7], ticks: d2Ticks, box: d2Box, pts: d2Pts, brk: d2Brk, sig: d2Sig, ylab: med },
  { title: 'CD4- CD8- T cells | CD38', x0: 333, x1: 450, top: 272, bot: 437.3, a: [0.2, 433.3], b: [0.8, 303.3], ticks: e1Ticks, box: e1Box, pts: e1Pts, brk: e1Brk, sig: e1Sig, ylab: med },
  { title: 'CD4+ TEMRA | CD38', x0: 482.3, x1: 599.3, top: 272, bot: 437.3, a: [0.2, 422.7], b: [0.6, 300], ticks: e2Ticks, box: e2Box, pts: e2Pts, brk: e2Brk, sig: e2Sig, ylab: med },
  { title: 'CD8+ TEMRA | CD38', x0: 637.7, x1: 756.7, top: 272, bot: 437.3, a: [0.2, 403.3], b: [0.8, 298.3], ticks: e3Ticks, box: e3Box, pts: e3Pts, brk: e3Brk, sig: e3Sig, ylab: med },
  { title: 'CD4+ T reg | PD-1', x0: 41.7, x1: 155, top: 476, bot: 642.3, a: [0.15, 639.3], b: [0.35, 512.3], ticks: f1Ticks, box: f1Box, pts: f1Pts, brk: f1Brk, sig: f1Sig, ylab: med, fmt: d3.format('.2f') },
  { title: 'CD4+ CM CXCR3+ CCR6+ | PD-1', x0: 184.3, x1: 301.7, top: 476, bot: 642, a: [0.2, 602.3], b: [0.4, 511.3], ticks: f2Ticks, box: f2Box, pts: f2Pts, brk: f2Brk, sig: f2Sig, ylab: med, fmt: d3.format('.1f') },
  { title: 'CD4+ CM CCR4+ | PD-1', x0: 330, x1: 448.3, top: 476, bot: 642, a: [0.2, 612.3], b: [0.5, 512.7], ticks: f3Ticks, box: f3Box, pts: f3Pts, brk: f3Brk, sig: f3Sig, ylab: med, fmt: d3.format('.1f') },
  { title: 'CD56 high NK | CD95', x0: 482.3, x1: 600, top: 476.5, bot: 642.3, a: [0.25, 603.3], b: [0.75, 514], ticks: g1Ticks, box: g1Box, pts: g1Pts, brk: g1Brk, sig: g1Sig, ylab: med, fmt: d3.format('.2f') },
  { title: 'CD56 dim CD16+ NK | CD95', x0: 639.3, x1: 756.7, top: 476.5, bot: 644, a: [0.2, 617.3], b: [0.6, 497], ticks: g2Ticks, box: g2Box, pts: g2Pts, brk: g2Brk, sig: g2Sig, ylab: med, fmt: d3.format('.1f') },
  { title: 'CD4+ EM | PD-1', x0: 336.7, x1: 453.3, top: 696.7, bot: 861, a: [0.2, 838.3], b: [0.8, 712.7], ticks: iTicks, box: iBox, pts: iPts, brk: iBrk, sig: iSig, ylab: med },
  { title: 'CD56 low CD16- NK | HLA-DR', x0: 486.7, x1: 599, top: 696.7, bot: 861, a: [0.2, 851.7], b: [0.8, 741.7], ticks: jTicks, box: jBox, pts: jPts, brk: jBrk, sig: jSig, ylab: med },
  { title: 'pDCs', x0: 639, x1: 757.7, top: 696.7, bot: 861, a: [0, 854.3], b: [15, 714.3], ticks: kTicks, box: kBox, pts: kPts, brk: kBrk, sig: kSig, ylab: 'frequency among monocytes/ DCs (%)', ylOff: 16, ylSize: 7, fmt: d3.format('d') }
];
panels.forEach(boxPanel);
</script>
</body>
</html>
